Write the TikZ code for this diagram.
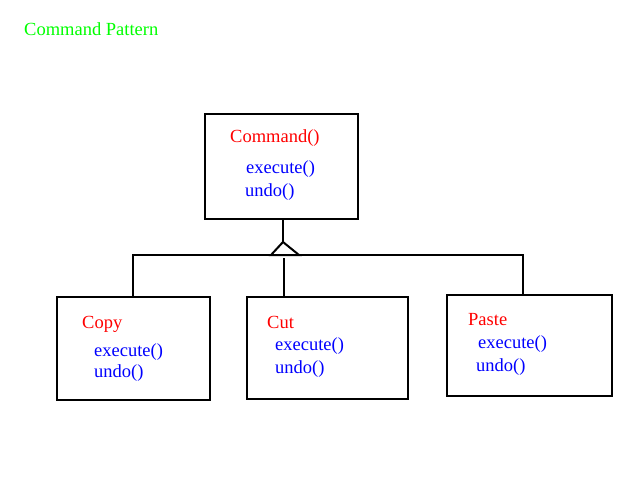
\documentclass[tikz,border=0pt]{standalone}
\usepackage{fontspec}
\setmainfont{Liberation Serif}
\begin{document}
\begin{tikzpicture}[x=1pt,y=-1pt,
  box/.style={draw=black,line width=2.2pt,rectangle,inner sep=0pt},
  txt/.style={anchor=base west,inner sep=0pt,font=\fontsize{18.5}{20}\selectfont},
  ttl/.style={txt,text={rgb,255:red,255;green,0;blue,0}},
  mth/.style={txt,text={rgb,255:red,0;green,0;blue,255}},
  conn/.style={draw=black,line width=2pt}]
\useasboundingbox[fill=white] (0,0) rectangle (640,480);
\node[txt,text={rgb,255:red,0;green,255;blue,0}] (title) at (24,35) {Command Pattern};
% boxes
\node[box,minimum width=153pt,minimum height=105pt] (cmd) at (281.5,166.5) {};
\node[box,minimum width=153pt,minimum height=103pt] (copy) at (133.5,348.5) {};
\node[box,minimum width=161pt,minimum height=102pt] (cut) at (327.5,348) {};
\node[box,minimum width=165pt,minimum height=101pt] (paste) at (529.5,345.5) {};
% texts
\node[ttl] (cmdT) at (230,142) {Command()};
\node[mth] (cmdE) at (246,173) {execute()};
\node[mth] (cmdU) at (245,196) {undo()};
\node[ttl] (copyT) at (82,328) {Copy};
\node[mth] (copyE) at (94,356) {execute()};
\node[mth] (copyU) at (94,377) {undo()};
\node[ttl] (cutT) at (267,328) {Cut};
\node[mth] (cutE) at (275,350) {execute()};
\node[mth] (cutU) at (275,373) {undo()};
\node[ttl] (pasteT) at (468,325) {Paste};
\node[mth] (pasteE) at (478,348) {execute()};
\node[mth] (pasteU) at (476,371) {undo()};
% connectors
\coordinate (apex) at (283,242);
\coordinate (bl) at (271,255);
\coordinate (br) at (299,255);
\coordinate (lt) at (133,255);
\coordinate (rt) at (523,255);
\coordinate (cutTop) at (284,258);
\draw[conn] (cmd.south -| apex) -- (apex);
\draw[conn,line join=miter] (apex) -- (bl) -- (br) -- cycle;
\draw[conn] (copy.north -| lt) -- (lt) -- (bl);
\draw[conn] (br) -- (rt) -- (paste.north -| rt);
\draw[conn] (cutTop) -- (cut.north -| cutTop);
\end{tikzpicture}
\end{document}
